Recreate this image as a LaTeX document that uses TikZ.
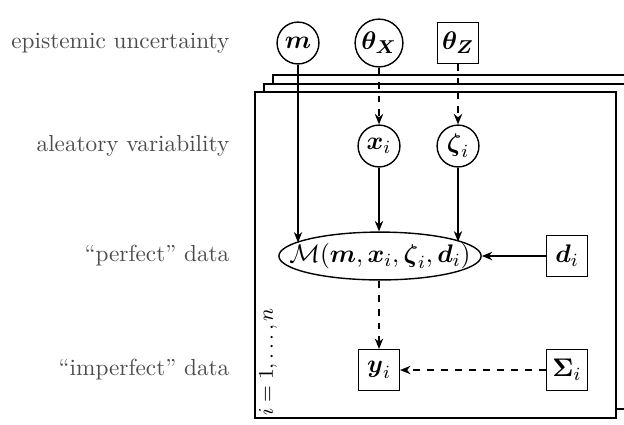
\documentclass[tikz,border=0pt]{standalone}
\usepackage{amsmath,amssymb}
\usepackage{tikz}
\usetikzlibrary{shapes.geometric, arrows.meta, positioning, calc}

\begin{document}
\begin{tikzpicture}[
    x=0.43pt, y=-0.43pt,
    semithick,
    rowlabel/.style={anchor=east, text=black!70, inner sep=0pt},
    latent/.style={circle, draw=black, fill=white, minimum size=18pt, inner sep=1pt, font=\fontsize{11}{13}\selectfont},
    fixed/.style={rectangle, draw=black, fill=white, minimum size=17.5pt, inner sep=1pt, font=\fontsize{11}{13}\selectfont},
    model/.style={ellipse, draw=black, fill=white, inner xsep=-8.2pt, inner ysep=1.8pt, font=\fontsize{11}{13}\selectfont},
    plate/.style={rectangle, draw=black, fill=white},
    arrow/.style={-{Stealth[length=4.5pt, width=3.6pt]}},
    link/.style={-{Stealth[length=4.5pt, width=3.6pt]}, dashed}
]
\useasboundingbox (0,0) rectangle (624,424);

% Plates
\draw[plate] (273,75) rectangle (634,400);
\draw[plate] (264,84) rectangle (625,409);
\draw[plate] (255,92) rectangle (616,418);
\node[rotate=90, inner sep=0pt, font=\small] (index) at (268,362) {$i=1,\ldots,n$};

% Row labels
\node[rowlabel] (epist) at (230,43) {epistemic uncertainty};
\node[rowlabel] (aleat) at (230,146) {aleatory variability};
\node[rowlabel] (perf) at (230,256) {``perfect'' data};
\node[rowlabel] (imperf) at (230,370) {``imperfect'' data};

% Nodes
\node[latent] (m) at (298,43) {$\boldsymbol{m}$};
\node[latent] (thX) at (379,43) {$\boldsymbol{\theta_X}$};
\node[fixed] (thZ) at (458,43) {$\boldsymbol{\theta_Z}$};
\node[latent] (xi) at (379,146) {$\boldsymbol{x}_i$};
\node[latent] (zi) at (458,146) {$\boldsymbol{\zeta}_i$};
\node[model] (mod) at (380,256) {$\mathcal{M}(\boldsymbol{m},\boldsymbol{x}_i,\boldsymbol{\zeta}_i,\boldsymbol{d}_i)$};
\node[fixed] (di) at (567,256) {$\boldsymbol{d}_i$};
\node[fixed] (yi) at (379,370) {$\boldsymbol{y}_i$};
\node[fixed] (Si) at (567,370) {$\boldsymbol{\Sigma}_i$};

% Arrows
\draw[arrow] (m) -- (m |- mod.171);
\draw[link] (thX) -- (xi);
\draw[link] (thZ) -- (zi);
\draw[arrow] (xi) -- (xi |- mod.north);
\draw[arrow] (zi) -- (zi |- mod.10);
\draw[arrow] (di) -- (mod);
\draw[link] (mod.south -| yi) -- (yi);
\draw[link] (Si) -- (yi);

\end{tikzpicture}
\end{document}
